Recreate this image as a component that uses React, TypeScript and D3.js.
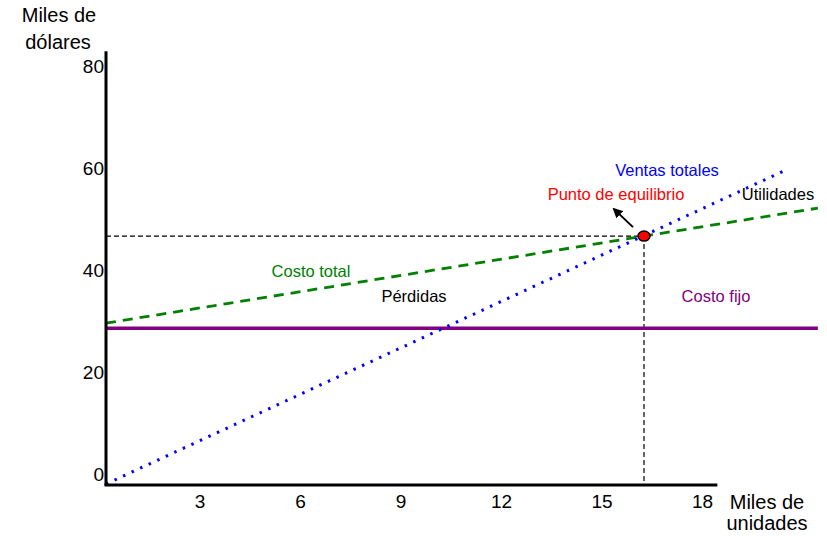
import React from 'react';
import * as d3 from 'd3';

// values (miles de unidades / miles de dólares)
const xTicks = [3, 6, 9, 12, 15, 18];
const yTicks = [0, 20, 40, 60, 80];
const xAxisMax = 18.25;
const yAxisMax = 85;

const fixedCostX = [0, 21.25];
const fixedCostY = [30.6, 30.6];

const salesX = [0, 20.3];
const salesY = [0, 61.7];

const totalCostX = [0, 16.06, 21.25];
const totalCostY = [31.6, 48.7, 54.2];

const breakEvenX = 16.06;
const breakEvenY = 48.7;

const font = '"Liberation Sans", Arial, sans-serif';

const toPoints = (xs: number[], ys: number[]) => xs.map((x, i) => [x, ys[i]] as [number, number]);

export default function App() {
  const width = 827;
  const height = 536;

  const x = d3.scaleLinear().domain([0, 18]).range([106, 709]);
  const y = d3.scaleLinear().domain([0, 80]).range([484, 76.8]);

  const line = d3.line<[number, number]>().x((d) => x(d[0])).y((d) => y(d[1]));

  const bx = x(breakEvenX);
  const by = y(breakEvenY);

  return (
    <svg
      width={width}
      height={height}
      style={{ position: 'absolute', left: 0, top: 0, background: '#fff' }}
      fontFamily={font}
    >
      <defs>
        <marker id="arrow" viewBox="0 0 10 10" refX="8" refY="5" markerWidth="5" markerHeight="5" orient="auto">
          <path d="M0,0 L10,5 L0,10 z" fill="#000" />
        </marker>
      </defs>

      {/* guide lines to the break-even point */}
      <line x1={x(0)} x2={bx} y1={by} y2={by} stroke="#000" strokeWidth={1.2} strokeDasharray="5 3" />
      <line x1={bx} x2={bx} y1={by} y2={y(0)} stroke="#000" strokeWidth={1.2} strokeDasharray="5 3" />

      {/* costo fijo */}
      <path d={line(toPoints(fixedCostX, fixedCostY)) || ''} fill="none" stroke="#800080" strokeWidth={3.5} />

      {/* costo total */}
      <path d={line(toPoints(totalCostX, totalCostY)) || ''} fill="none" stroke="#008000" strokeWidth={2.8} strokeDasharray="10 7" />

      {/* ventas totales */}
      <path d={line(toPoints(salesX, salesY)) || ''} fill="none" stroke="#0000ff" strokeWidth={3} strokeDasharray="2.5 6.9" />

      {/* axes */}
      <line x1={x(0)} x2={x(0)} y1={y(0) + 1.5} y2={y(yAxisMax)} stroke="#000" strokeWidth={3} />
      <line x1={x(0) - 1.5} x2={x(xAxisMax)} y1={y(0) + 1} y2={y(0) + 1} stroke="#000" strokeWidth={3} />

      {yTicks.map((t) => (
        <text key={t} x={x(0) - 2} y={y(t) - 10} dy="0.35em" textAnchor="end" fontSize={19} fill="#000">
          {t}
        </text>
      ))}
      {xTicks.map((t) => (
        <text key={t} x={x(t) - 6.5} y={y(0) + 24} textAnchor="middle" fontSize={19} fill="#000">
          {t}
        </text>
      ))}

      <text x={59} y={22} textAnchor="middle" fontSize={20} fill="#000">Miles de</text>
      <text x={58} y={49} textAnchor="middle" fontSize={20} fill="#000">dólares</text>
      <text x={767} y={509} textAnchor="middle" fontSize={20} fill="#000">Miles de</text>
      <text x={767} y={530} textAnchor="middle" fontSize={20} fill="#000">unidades</text>

      {/* break-even marker and arrow */}
      <line x1={bx - 11} y1={by - 9} x2={bx - 30} y2={by - 27} stroke="#000" strokeWidth={2} markerEnd="url(#arrow)" />
      <ellipse cx={bx} cy={by} rx={6} ry={5} fill="#ff0000" stroke="#000" strokeWidth={1.5} />

      {/* annotations */}
      <text x={667} y={176} textAnchor="middle" fontSize={16.5} fill="#0000ff">Ventas totales</text>
      <text x={616} y={200} textAnchor="middle" fontSize={16.5} fill="#ff0000">Punto de equilibrio</text>
      <text x={778} y={200} textAnchor="middle" fontSize={16.5} fill="#000">Utilidades</text>
      <text x={311} y={277} textAnchor="middle" fontSize={16.5} fill="#008000">Costo total</text>
      <text x={414} y={302} textAnchor="middle" fontSize={16.5} fill="#000">Pérdidas</text>
      <text x={716} y={302} textAnchor="middle" fontSize={16.5} fill="#800080">Costo fijo</text>
    </svg>
  );
}
